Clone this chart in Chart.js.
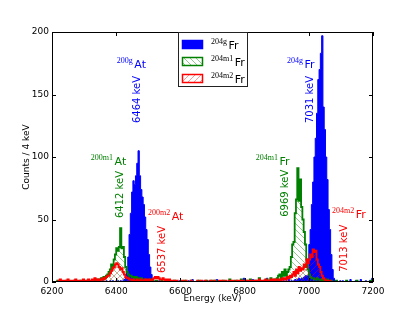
<!DOCTYPE html>
<html>
<head>
<meta charset="utf-8">
<script src="https://cdn.jsdelivr.net/npm/chart.js@4.4.0/dist/chart.umd.min.js"></script>
<style>
  html, body { margin: 0; padding: 0; background: #fff; }
  #wrap { width: 415px; height: 314px; }
</style>
</head>
<body>
<div id="wrap"><canvas id="c" width="415" height="314"></canvas></div>
<script>
// histogram bins: 4 keV wide, starting at 6200 keV
const binStart = 6200;
const binWidth = 4;

// 204g Fr (and 200g At daughter) - blue
const blueCounts = [
  0,0,0,0,0,1,0,0,0,1,0,0,1,0,0,0,1,0,0,0,1,0,0,1,0,
  0,1,0,0,1,0,0,1,0,0,1,0,0,0,1,0,0,1,0,0,1,0,1,0,0,
  0,1,0,1,0,1,2,3,8,20,38,55,72,81,78,85,95,105,85,74,68,62,52,42,34,
  22,12,6,2,0,1,0,0,1,0,1,0,0,0,1,0,0,1,0,0,0,1,0,0,1,
  0,0,1,0,0,0,1,0,0,2,0,0,0,1,0,0,0,1,0,0,0,0,1,0,0,
  0,0,0,2,0,0,0,1,0,0,0,0,1,0,0,0,0,0,0,1,0,0,0,0,3,
  0,0,0,0,0,0,2,0,0,0,1,0,0,0,0,0,0,3,0,0,1,0,0,1,0,
  1,0,1,0,0,1,0,1,0,2,0,1,0,1,2,1,2,3,2,3,3,4,5,5,5,
  30,42,62,80,100,115,135,162,170,183,197,140,122,100,82,58,42,22,10,3,0,1,0,0,1,
  0,1,0,0,0,0,0,2,0,0,0,1,0,0,0,2,0,0,0,1,0,0,1,0,3
];

// 204m1 Fr (and 200m1 At) - green
const greenCounts = [
  0,0,0,0,1,0,0,0,0,0,0,1,0,0,0,0,0,1,0,0,0,0,1,0,0,
  0,0,1,0,0,0,1,0,1,0,2,1,2,3,2,4,3,5,6,8,10,14,12,18,22,
  27,25,28,43,27,28,20,12,8,6,5,5,4,4,3,4,3,3,2,3,2,2,2,1,1,
  1,2,0,1,0,0,1,0,0,0,1,0,0,0,0,1,0,0,0,0,1,0,0,0,0,
  0,0,0,1,0,0,0,0,1,0,0,0,0,0,1,0,0,0,0,0,1,0,0,0,1,
  0,0,1,0,0,0,0,0,1,0,0,0,0,2,0,0,0,0,1,0,0,0,2,0,0,
  0,1,0,0,2,0,0,0,1,0,0,3,0,0,0,1,0,2,0,0,3,0,1,2,0,
  3,5,6,3,8,5,10,5,8,10,12,20,30,32,55,66,91,65,82,60,50,40,30,18,10,
  6,4,3,3,2,2,3,2,2,1,2,1,1,1,2,1,0,1,0,0,0,1,0,0,0,
  0,0,0,0,1,0,0,0,0,0,0,0,1,0,0,0,0,0,0,0,0,0,0,1,0
];

// 204m2 Fr (and 200m2 At) - red
const redCounts = [
  0,0,0,0,0,1,2,1,0,1,1,0,2,1,0,1,0,1,2,0,1,1,0,1,2,
  1,0,1,2,1,0,2,1,3,2,1,2,1,2,3,2,3,4,5,5,7,9,11,12,14,
  15,14,12,10,11,8,6,4,3,3,2,2,1,2,1,1,2,1,1,2,1,1,2,1,2,
  1,2,1,2,3,4,3,4,3,2,2,3,2,1,2,1,2,1,1,0,1,0,1,0,0,
  0,1,0,0,1,0,0,0,1,0,0,0,0,1,0,0,1,0,0,1,0,0,0,1,0,
  0,1,0,0,0,1,0,1,0,0,1,0,0,1,1,0,1,0,0,1,1,0,1,0,1,
  1,0,1,1,0,1,0,1,1,0,1,2,1,0,1,1,2,1,0,1,2,1,2,1,2,
  2,1,2,1,3,2,3,2,4,3,5,4,6,8,5,10,7,12,9,11,10,14,12,18,15,
  18,22,20,26,24,25,18,14,12,8,5,3,2,1,1,0,1,0,0,0,0,0,0,0,0,
  0,0,0,0,0,0,0,0,0,0,0,0,0,0,0,0,0,0,0,0,0,0,0,0,0
];

const xTicks = [6200, 6400, 6600, 6800, 7000, 7200];
const yTicks = [0, 50, 100, 150, 200];

// peak labels: isotope (superscript + symbol) and rotated energy label
const isotopeLabels = [
  { sup: '200g',  sym: 'At', x: 6402, y: 171, color: '#0000ff' },
  { sup: '200m1', sym: 'At', x: 6321, y: 94,  color: '#008000' },
  { sup: '200m2', sym: 'At', x: 6499, y: 50,  color: '#ff0000' },
  { sup: '204g',  sym: 'Fr', x: 6932, y: 171, color: '#0000ff' },
  { sup: '204m1', sym: 'Fr', x: 6835, y: 94,  color: '#008000' },
  { sup: '204m2', sym: 'Fr', x: 7072, y: 51,  color: '#ff0000' }
];
const energyLabels = [
  { text: '6464 keV', x: 6465, y: 146, color: '#0000ff' },
  { text: '6412 keV', x: 6412, y: 70,  color: '#008000' },
  { text: '6537 keV', x: 6543, y: 26,  color: '#ff0000' },
  { text: '7031 keV', x: 7004, y: 146, color: '#0000ff' },
  { text: '6969 keV', x: 6926, y: 71,  color: '#008000' },
  { text: '7013 keV', x: 7110, y: 27,  color: '#ff0000' }
];

function toPoints(counts) {
  const pts = counts.map((c, i) => ({ x: binStart + i * binWidth, y: c }));
  pts.push({ x: binStart + counts.length * binWidth, y: 0 });
  return pts;
}

function hatch(color, forward) {
  const s = 6;
  const c = document.createElement('canvas');
  c.width = s; c.height = s;
  const g = c.getContext('2d');
  g.strokeStyle = color;
  g.lineWidth = 0.8;
  g.beginPath();
  if (forward) {
    g.moveTo(0, s); g.lineTo(s, 0);
    g.moveTo(-1, 1); g.lineTo(1, -1);
    g.moveTo(s - 1, s + 1); g.lineTo(s + 1, s - 1);
  } else {
    g.moveTo(0, 0); g.lineTo(s, s);
    g.moveTo(s - 1, -1); g.lineTo(s + 1, 1);
    g.moveTo(-1, s - 1); g.lineTo(1, s + 1);
  }
  g.stroke();
  return g.createPattern(c, 'repeat');
}

const greenHatch = hatch('rgba(0,128,0,0.55)', false);
const redHatch = hatch('rgba(255,0,0,0.5)', true);

const sansFont = '"DejaVu Sans", sans-serif';
const serifFont = '"Liberation Serif", "DejaVu Serif", serif';

const decor = {
  id: 'decor',
  afterDraw(chart) {
    const { ctx, chartArea: a, scales: { x, y } } = chart;
    ctx.save();
    ctx.strokeStyle = '#000';
    ctx.lineWidth = 1;
    // frame
    ctx.strokeRect(Math.round(a.left) + 0.5, Math.round(a.top) + 0.5,
      Math.round(a.width) - 1, Math.round(a.height) - 1);
    // inward ticks on all four sides
    ctx.beginPath();
    xTicks.forEach(v => {
      const px = Math.round(x.getPixelForValue(v)) + 0.5;
      ctx.moveTo(px, a.bottom); ctx.lineTo(px, a.bottom - 4);
      ctx.moveTo(px, a.top); ctx.lineTo(px, a.top + 4);
    });
    yTicks.forEach(v => {
      const py = Math.round(y.getPixelForValue(v)) + 0.5;
      ctx.moveTo(a.left, py); ctx.lineTo(a.left + 4, py);
      ctx.moveTo(a.right, py); ctx.lineTo(a.right - 4, py);
    });
    ctx.stroke();

    // axis titles
    ctx.fillStyle = '#000';
    ctx.font = '9px ' + sansFont;
    ctx.textAlign = 'center';
    ctx.textBaseline = 'middle';
    ctx.fillText('Energy (keV)', (a.left + a.right) / 2, 299);
    ctx.save();
    ctx.translate(27, (a.top + a.bottom) / 2);
    ctx.rotate(-Math.PI / 2);
    ctx.fillText('Counts / 4 keV', 0, 0);
    ctx.restore();

    // rotated energy labels
    energyLabels.forEach(l => {
      ctx.save();
      ctx.translate(x.getPixelForValue(l.x), y.getPixelForValue(l.y));
      ctx.rotate(-Math.PI / 2);
      ctx.fillStyle = l.color;
      ctx.font = '10px ' + sansFont;
      ctx.textAlign = 'center';
      ctx.textBaseline = 'middle';
      ctx.fillText(l.text, 0, 0);
      ctx.restore();
    });

    // isotope labels
    function isotope(sup, sym, px, py, color, supSize, symSize) {
      ctx.fillStyle = color;
      ctx.textAlign = 'left';
      ctx.textBaseline = 'alphabetic';
      ctx.font = supSize + 'px ' + serifFont;
      ctx.fillText(sup, px, py - 5);
      const w = ctx.measureText(sup).width;
      ctx.font = symSize + 'px ' + sansFont;
      ctx.fillText(sym, px + w + 1.5, py);
    }
    isotopeLabels.forEach(l => {
      isotope(l.sup, l.sym, x.getPixelForValue(l.x), y.getPixelForValue(l.y), l.color, 8, 11);
    });

    // legend
    const lx = a.left + 126, ly = a.top, lw = 69, lh = 54;
    ctx.fillStyle = '#fff';
    ctx.fillRect(lx, ly, lw, lh);
    ctx.strokeStyle = '#222';
    ctx.lineWidth = 1;
    ctx.strokeRect(lx + 0.5, ly + 0.5, lw, lh);
    const entries = [
      { sup: '204g',  fill: '#0000ff', edge: '#0000ff' },
      { sup: '204m1', fill: greenHatch, edge: '#008000' },
      { sup: '204m2', fill: redHatch,  edge: '#ff0000' }
    ];
    entries.forEach((e, i) => {
      const ry = ly + 8 + i * 17;
      ctx.fillStyle = e.fill;
      ctx.fillRect(lx + 4, ry, 21, 9);
      ctx.strokeStyle = e.edge;
      ctx.lineWidth = 1.5;
      ctx.strokeRect(lx + 4.5, ry + 0.5, 20, 8);
      isotope(e.sup, 'Fr', lx + 33, ry + 9, '#000', 8, 11);
    });
    ctx.restore();
  }
};

const tickFont = { family: 'DejaVu Sans', size: 9 };

new Chart(document.getElementById('c'), {
  type: 'line',
  data: {
    datasets: [
      {
        label: '204g Fr',
        data: toPoints(blueCounts),
        borderColor: '#0000ff',
        backgroundColor: '#0000ff',
        borderWidth: 1,
        fill: 'origin',
        stepped: true,
        pointRadius: 0,
        order: 3
      },
      {
        label: '204m1 Fr',
        data: toPoints(greenCounts),
        borderColor: '#008000',
        backgroundColor: greenHatch,
        borderWidth: 1.8,
        fill: 'origin',
        stepped: true,
        pointRadius: 0,
        order: 2
      },
      {
        label: '204m2 Fr',
        data: toPoints(redCounts),
        borderColor: '#ff0000',
        backgroundColor: redHatch,
        borderWidth: 1.8,
        fill: 'origin',
        stepped: true,
        pointRadius: 0,
        order: 1
      }
    ]
  },
  options: {
    responsive: false,
    animation: false,
    layout: { padding: { left: 0, right: 42, top: 32, bottom: 0 } },
    plugins: { legend: { display: false }, tooltip: { enabled: false } },
    scales: {
      x: {
        type: 'linear',
        min: 6200,
        max: 7200,
        grid: { display: false, drawTicks: false },
        border: { display: false },
        afterFit: s => { s.height = 32; },
        afterBuildTicks: s => { s.ticks = xTicks.map(v => ({ value: v })); },
        ticks: { color: '#000', font: tickFont, maxRotation: 0, padding: 4, callback: v => String(v) }
      },
      y: {
        min: 0,
        max: 200,
        grid: { display: false, drawTicks: false },
        border: { display: false },
        afterFit: s => { s.width = 52; },
        afterBuildTicks: s => { s.ticks = yTicks.map(v => ({ value: v })); },
        ticks: { color: '#000', font: tickFont, padding: 3, callback: v => String(v) }
      }
    }
  },
  plugins: [decor]
});
</script>
</body>
</html>
